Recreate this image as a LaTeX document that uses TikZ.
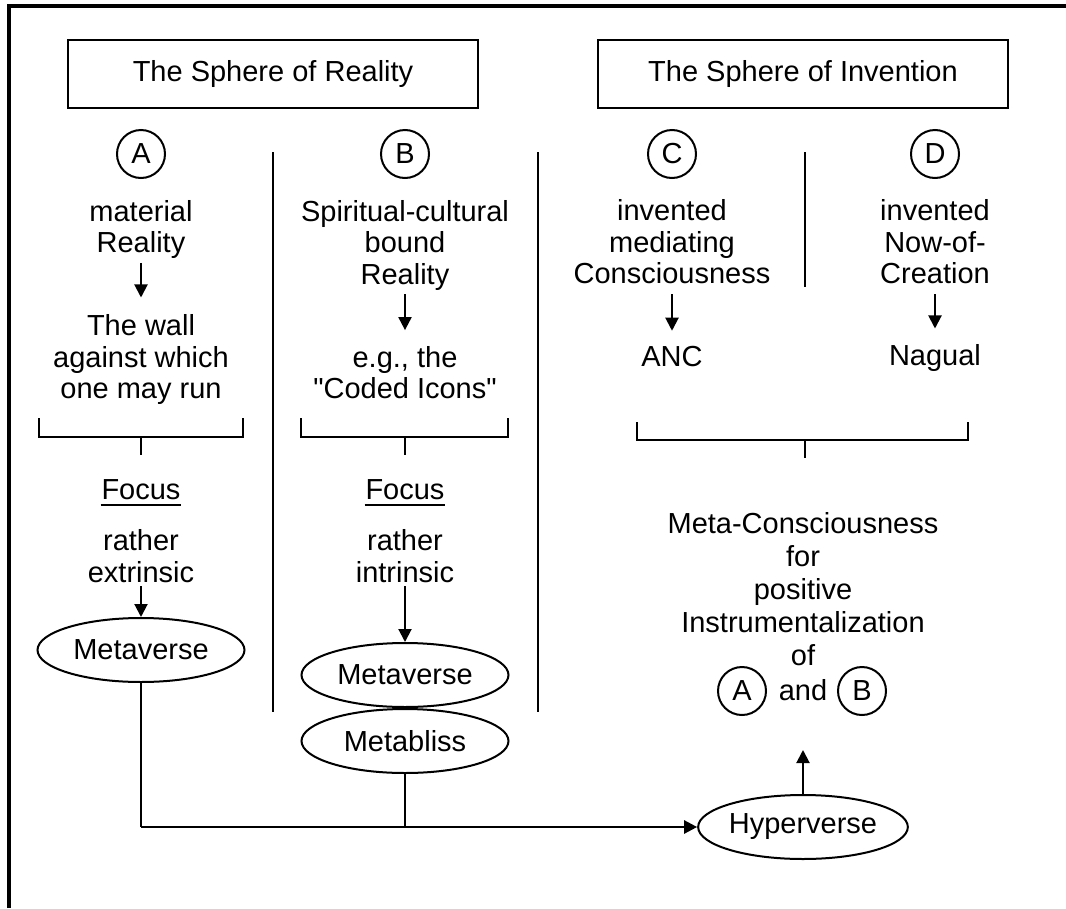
\documentclass[tikz,border=0pt]{standalone}
\usepackage{fontspec}
\setmainfont{Liberation Sans}
\usetikzlibrary{arrows.meta,shapes.geometric}

\begin{document}
\begin{tikzpicture}[x=1pt, y=-1pt, line width=2pt,
    every node/.style={font=\fontsize{29}{31.5}\selectfont, align=center, inner sep=3pt},
    header/.style={draw, minimum width=410pt, minimum height=68pt},
    tag/.style={circle, draw, minimum size=48pt, inner sep=0pt},
    oval/.style={ellipse, draw, minimum width=207pt, minimum height=64pt, inner sep=0pt},
    arr/.style={-{Triangle[length=13pt,width=13pt]}}]
  \useasboundingbox (0,0) rectangle (1066,908);
  \draw[line width=4pt, line join=miter] (9,908) -- (9,6) -- (1066,6);

  \node[header] at (273,74)  (hdrR)  {The Sphere of Reality};
  \node[header] at (803,74)  (hdrI)  {The Sphere of Invention};

  \node[tag] at (141,154)  (tagA)  {A};
  \node[tag] at (405,154)  (tagB)  {B};
  \node[tag] at (672,154)  (tagC)  {C};
  \node[tag] at (935,154)  (tagD)  {D};

  \node at (141,229.5)  (matA)   {material\\Reality};
  \node at (141,359.5)  (wallA)  {The wall\\against which\\one may run};
  \node at (405,245)    (spiB)   {Spiritual-cultural\\bound\\Reality};
  \node at (405,372.5)  (iconB)  {e.g., the\\\textquotedbl Coded Icons\textquotedbl};
  \node at (672,242)    (invC)   {invented\\mediating\\Consciousness};
  \node at (672,357)    (ancC)   {ANC};
  \node at (935,242)    (invD)   {invented\\Now-of-\\Creation};
  \node at (935,358)    (nagD)   {Nagual};

  \draw[arr, shorten >=13pt]               (matA) -- (wallA);
  \draw[arr, shorten >=12pt]               (spiB) -- (iconB);
  \draw[arr, shorten <=6pt, shorten >=12pt] (invC) -- (ancC);
  \draw[arr, shorten <=6pt, shorten >=12pt] (invD) -- (nagD);

  \draw (273,152) -- (273,712);
  \draw (538,152) -- (538,712);
  \draw (805,152) -- (805,287);

  \draw (39,418) -- (39,437) -- (243,437) -- (243,418) (141,437) -- (141,455);
  \draw (301,418) -- (301,437) -- (508,437) -- (508,418) (405,437) -- (405,455);
  \draw (637,422) -- (637,440) -- (968,440) -- (968,422) (805,440) -- (805,458);

  \node[inner sep=0pt] at (141,490)  (focA)  {Focus};
  \node[inner sep=0pt] at (405,490)  (focB)  {Focus};
  \draw[line width=2pt] ([yshift=-5pt]focA.base west) -- ([yshift=-5pt]focA.base east);
  \draw[line width=2pt] ([yshift=-5pt]focB.base west) -- ([yshift=-5pt]focB.base east);

  \node at (141,556)  (extA)  {rather\\extrinsic};
  \node at (405,556)  (intB)  {rather\\intrinsic};

  \node[oval] at (141,650)  (mvA)  {Metaverse};
  \node[oval] at (405,675)  (mvB)  {Metaverse};
  \node[oval] at (405,741)  (mbB)  {Metabliss};
  \draw[arr] (extA) -- (mvA);
  \draw[arr] (intB) -- (mvB);

  \node[font=\fontsize{29}{33}\selectfont] at (803,589)  (meta)
    {Meta-Consciousness\\for\\positive\\Instrumentalization\\of};
  \node at (803,690)        (and)   {and};
  \node[tag] at (742,691)   (andA)  {A};
  \node[tag] at (862,691)   (andB)  {B};

  \node[oval] at (803,827)  (hyp)  {Hyperverse};
  \coordinate (hypUp) at (803,750);
  \coordinate (joinA) at (141,827);
  \coordinate (joinB) at (405,827);
  \draw[arr] (hyp) -- (hypUp);
  \draw (mvA) -- (joinA);
  \draw (mbB) -- (joinB);
  \draw[arr, line width=2.5pt] (joinA) -- (hyp);
\end{tikzpicture}
\end{document}
